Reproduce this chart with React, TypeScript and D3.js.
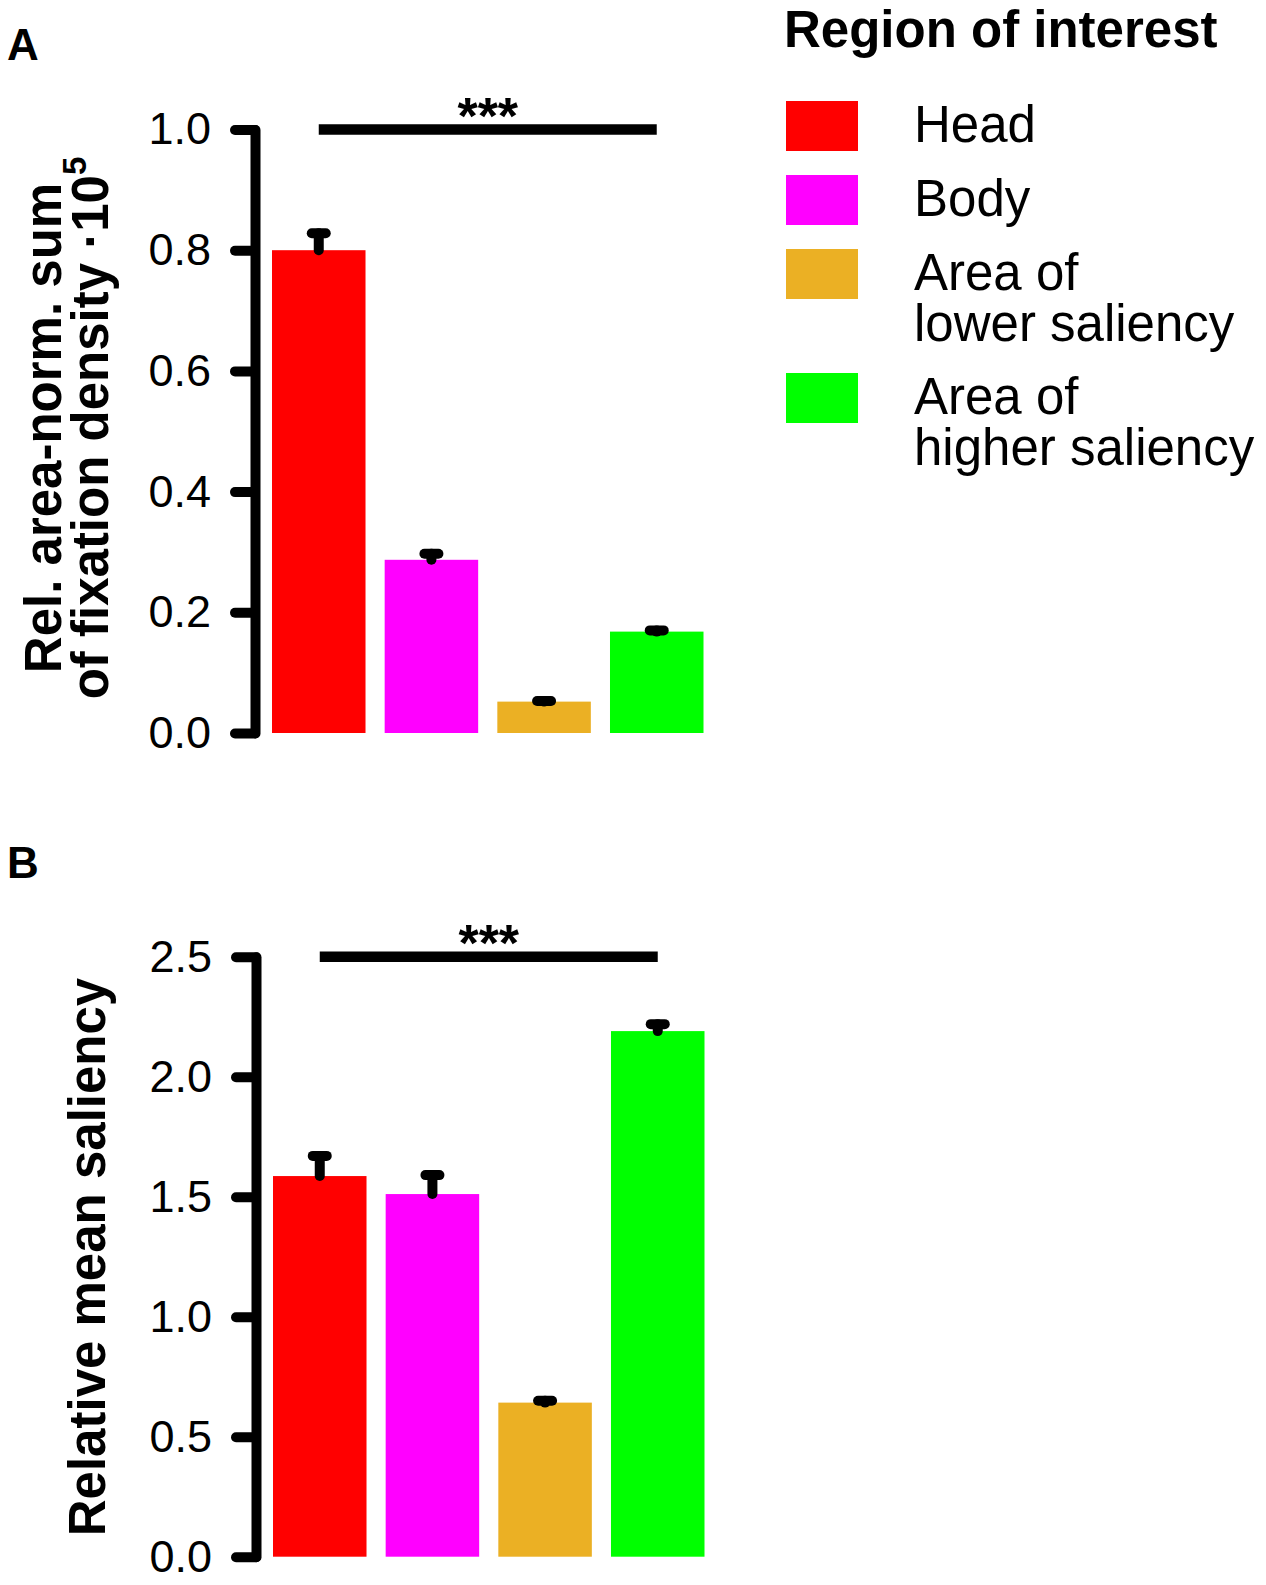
import { useEffect, useRef } from 'react'
import * as d3 from 'd3'

const categories = ['Head', 'Body', 'Area of lower saliency', 'Area of higher saliency']
const legendLines = [['Head'], ['Body'], ['Area of', 'lower saliency'], ['Area of', 'higher saliency']]
const colors = ['#FF0000', '#FF00FF', '#EBB024', '#00FF00']

const fixationMean = [0.8, 0.287, 0.052, 0.168]
const fixationUpper = [0.828, 0.297, 0.053, 0.17]
const fixationTicks = [0, 0.2, 0.4, 0.6, 0.8, 1.0]

const saliencyMean = [1.586, 1.511, 0.642, 2.19]
const saliencyUpper = [1.67, 1.59, 0.65, 2.219]
const saliencyTicks = [0, 0.5, 1.0, 1.5, 2.0, 2.5]

const FONT = '"Liberation Sans", Arial, sans-serif'

interface PanelConfig {
  label: string
  labelY: number
  axisX: number
  yTop: number
  yBottom: number
  mean: number[]
  upper: number[]
  ticks: number[]
}

function drawPanel(svg: d3.Selection<SVGSVGElement, unknown, null, undefined>, cfg: PanelConfig) {
  const x = d3.scaleBand()
    .domain(categories)
    .range([cfg.axisX + 17, cfg.axisX + 448.5])
    .paddingInner(0.17)
    .paddingOuter(0)

  const y = d3.scaleLinear()
    .domain([0, d3.max(cfg.ticks) || 1])
    .range([cfg.yBottom, cfg.yTop])

  // Panel letter
  svg.append('text')
    .attr('x', 7)
    .attr('y', cfg.labelY)
    .style('font-family', FONT)
    .style('font-weight', 'bold')
    .style('font-size', '44px')
    .text(cfg.label)

  // Bars
  svg.append('g')
    .selectAll('rect')
    .data(categories)
    .enter()
    .append('rect')
    .attr('x', d => x(d) || 0)
    .attr('y', (d, i) => y(cfg.mean[i]))
    .attr('width', x.bandwidth())
    .attr('height', (d, i) => y(0) - y(cfg.mean[i]))
    .attr('fill', (d, i) => colors[i])

  // Error bars (upper only)
  const err = svg.append('g')
    .attr('stroke', '#000')
    .attr('stroke-width', 10)
    .attr('stroke-linecap', 'round')
  categories.forEach((c, i) => {
    const cx = (x(c) || 0) + x.bandwidth() / 2
    err.append('line')
      .attr('x1', cx).attr('x2', cx)
      .attr('y1', y(cfg.mean[i])).attr('y2', y(cfg.upper[i]))
    err.append('line')
      .attr('x1', cx - 7).attr('x2', cx + 7)
      .attr('y1', y(cfg.upper[i])).attr('y2', y(cfg.upper[i]))
  })

  // Y axis
  const axis = svg.append('g')
    .attr('transform', `translate(${cfg.axisX},0)`)
    .call(d3.axisLeft(y).tickValues(cfg.ticks).tickSize(20).tickSizeOuter(0).tickPadding(24).tickFormat(d3.format('.1f')))
  axis.select('.domain')
    .attr('stroke', '#000')
    .attr('stroke-width', 10)
    .attr('stroke-linecap', 'round')
    .attr('stroke-linejoin', 'round')
  axis.selectAll('.tick line')
    .attr('stroke', '#000')
    .attr('stroke-width', 10)
    .attr('stroke-linecap', 'round')
  axis.selectAll('.tick text')
    .style('font-family', FONT)
    .style('font-size', '45px')
    .attr('fill', '#000')

  // Significance bar between Head and Area of higher saliency
  const x1 = (x(categories[0]) || 0) + x.bandwidth() / 2
  const x2 = (x(categories[3]) || 0) + x.bandwidth() / 2
  const top = y(d3.max(cfg.ticks) || 1)
  svg.append('line')
    .attr('x1', x1).attr('x2', x2)
    .attr('y1', top).attr('y2', top)
    .attr('stroke', '#000')
    .attr('stroke-width', 10.5)
  svg.append('text')
    .attr('x', (x1 + x2) / 2)
    .attr('y', top + 4)
    .attr('text-anchor', 'middle')
    .style('font-family', FONT)
    .style('font-weight', 'bold')
    .style('font-size', '52px')
    .text('***')

  return y
}

export default function App() {
  const svgRef = useRef<SVGSVGElement>(null)

  useEffect(() => {
    if (!svgRef.current) return
    const svg = d3.select(svgRef.current)
    svg.selectAll('*').remove()

    drawPanel(svg, {
      label: 'A', labelY: 60, axisX: 255, yTop: 129.5, yBottom: 733,
      mean: fixationMean, upper: fixationUpper, ticks: fixationTicks,
    })
    drawPanel(svg, {
      label: 'B', labelY: 878, axisX: 256, yTop: 956.7, yBottom: 1556.7,
      mean: saliencyMean, upper: saliencyUpper, ticks: saliencyTicks,
    })

    // Y axis titles
    const titleA = svg.append('text')
      .attr('transform', 'translate(61,428) rotate(-90)')
      .attr('text-anchor', 'middle')
      .style('font-family', FONT)
      .style('font-weight', 'bold')
      .style('font-size', '51px')
    titleA.append('tspan').attr('x', 0).attr('y', 0).text('Rel. area-norm. sum')
    const line2 = titleA.append('tspan').attr('x', 0).attr('y', 47)
    line2.append('tspan').text('of fixation density ·10')
    line2.append('tspan').attr('dy', -22).style('font-size', '33px').text('5')

    svg.append('text')
      .attr('transform', 'translate(105,1257) rotate(-90)')
      .attr('text-anchor', 'middle')
      .style('font-family', FONT)
      .style('font-weight', 'bold')
      .style('font-size', '51px')
      .text('Relative mean saliency')

    // Legend
    const legend = svg.append('g')
    legend.append('text')
      .attr('x', 784)
      .attr('y', 47)
      .style('font-family', FONT)
      .style('font-weight', 'bold')
      .style('font-size', '51px')
      .text('Region of interest')

    let top = 101
    legendLines.forEach((lines, i) => {
      legend.append('rect')
        .attr('x', 786)
        .attr('y', top)
        .attr('width', 72)
        .attr('height', 50)
        .attr('fill', colors[i])
      const t = legend.append('text')
        .style('font-family', FONT)
        .style('font-size', '51px')
      lines.forEach((ln, j) => {
        t.append('tspan')
          .attr('x', 914)
          .attr('y', top + 41 + j * 51)
          .text(ln)
      })
      top += lines.length > 1 ? 124 : 74
    })
  }, [])

  return (
    <svg
      ref={svgRef}
      width={1266}
      height={1585}
      style={{ position: 'absolute', left: 0, top: 0, background: '#fff' }}
    />
  )
}
